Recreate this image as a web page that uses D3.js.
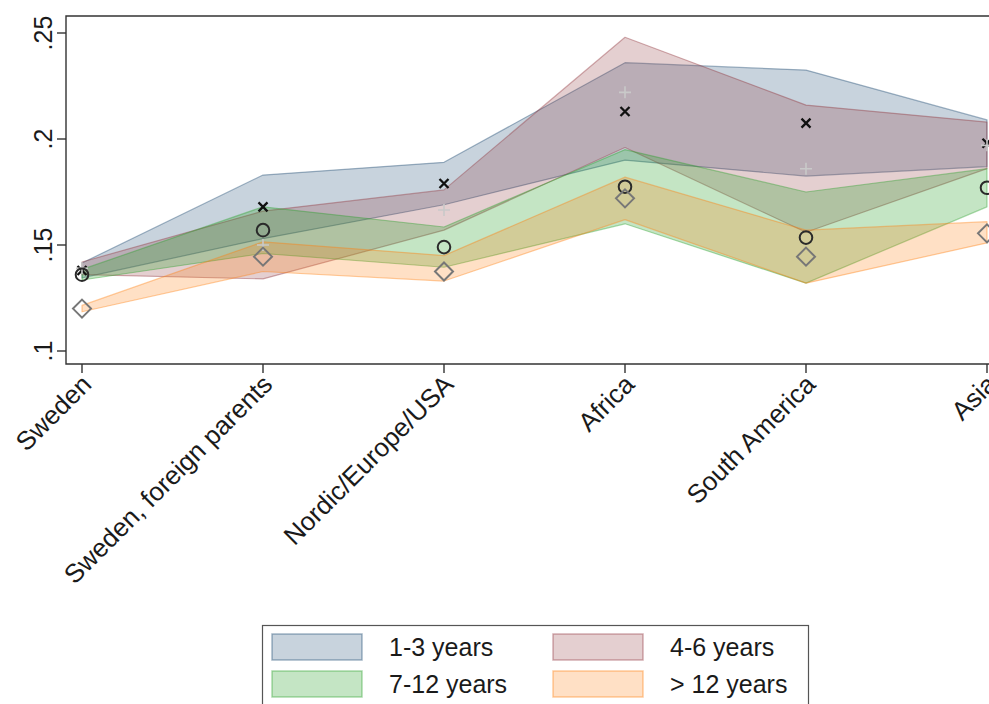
<!DOCTYPE html>
<html>
<head>
<meta charset="utf-8">
<script src="https://cdn.jsdelivr.net/npm/d3@7"></script>
<style>
  html, body { margin: 0; padding: 0; background: #fff; }
  svg { display: block; font-family: "Liberation Sans", Arial, sans-serif; }
</style>
</head>
<body>
<svg id="chart" width="989" height="704"></svg>
<script>
// Region of origin along the x axis
const categories = ["Sweden", "Sweden, foreign parents", "Nordic/Europe/USA", "Africa", "South America", "Asia"];

// Point estimates and 95% interval bounds by years since arrival
const est1to3  = [0.138, 0.168, 0.179, 0.213, 0.2075, 0.198];
const lo1to3   = [0.1345, 0.153, 0.169, 0.190, 0.1825, 0.187];
const hi1to3   = [0.1415, 0.183, 0.189, 0.236, 0.2325, 0.209];

const est4to6  = [0.139, 0.150, 0.1665, 0.222, 0.186, 0.197];
const lo4to6   = [0.136, 0.134, 0.157, 0.196, 0.156, 0.186];
const hi4to6   = [0.142, 0.166, 0.176, 0.248, 0.216, 0.208];

const est7to12 = [0.136, 0.157, 0.149, 0.1775, 0.1535, 0.177];
const lo7to12  = [0.1335, 0.146, 0.1395, 0.160, 0.132, 0.168];
const hi7to12  = [0.1385, 0.168, 0.1585, 0.195, 0.175, 0.186];

const est12p   = [0.120, 0.1445, 0.1375, 0.172, 0.1445, 0.1555];
const lo12p    = [0.1185, 0.1375, 0.133, 0.162, 0.132, 0.151];
const hi12p    = [0.1215, 0.1515, 0.145, 0.182, 0.157, 0.161];

const yTicks = [0.1, 0.15, 0.2, 0.25];
const yTickLabels = [".1", ".15", ".2", ".25"];

const seriesNames = ["1-3 years", "4-6 years", "7-12 years", "> 12 years"];
const seriesColors = ["#1a476f", "#90353b", "#2ca02c", "#ff7f0e"];
const markerKinds = ["cross", "plus", "circle", "diamond"];

const series = [
  { name: seriesNames[0], color: seriesColors[0], marker: markerKinds[0], est: est1to3,  lo: lo1to3,  hi: hi1to3 },
  { name: seriesNames[1], color: seriesColors[1], marker: markerKinds[1], est: est4to6,  lo: lo4to6,  hi: hi4to6 },
  { name: seriesNames[2], color: seriesColors[2], marker: markerKinds[2], est: est7to12, lo: lo7to12, hi: hi7to12 },
  { name: seriesNames[3], color: seriesColors[3], marker: markerKinds[3], est: est12p,   lo: lo12p,   hi: hi12p }
];

const svg = d3.select("#chart");
const frame = { left: 66, top: 16, bottom: 364, right: 1000 };

const x = d3.scalePoint().domain(categories).range([82, 987]);
const y = d3.scaleLinear().domain([0.1, 0.25]).range([351, 33]);

const fillOpacity = c => (c === "#2ca02c" ? 0.28 : 0.24);

// Interval bands
const area = d3.area()
  .x(d => x(d.cat))
  .y0(d => y(d.lo))
  .y1(d => y(d.hi));

const bands = svg.append("g");
series.forEach(s => {
  const rows = categories.map((c, i) => ({ cat: c, lo: s.lo[i], hi: s.hi[i] }));
  bands.append("path")
    .datum(rows)
    .attr("d", area)
    .attr("fill", s.color)
    .attr("fill-opacity", fillOpacity(s.color))
    .attr("stroke", s.color)
    .attr("stroke-opacity", 0.4)
    .attr("stroke-width", 1.2)
    .attr("stroke-linejoin", "round");
});

// Point estimate markers
const markers = svg.append("g");
function drawMarker(g, kind, cx, cy) {
  if (kind === "cross") {
    const r = 4.5;
    g.append("path")
      .attr("d", `M${cx - r},${cy - r}L${cx + r},${cy + r}M${cx - r},${cy + r}L${cx + r},${cy - r}`)
      .attr("stroke", "#111").attr("stroke-width", 2.3).attr("fill", "none");
  } else if (kind === "plus") {
    const r = 6;
    g.append("path")
      .attr("d", `M${cx - r},${cy}L${cx + r},${cy}M${cx},${cy - r}L${cx},${cy + r}`)
      .attr("stroke", "#c9c9c9").attr("stroke-width", 1.6).attr("fill", "none");
  } else if (kind === "circle") {
    g.append("circle")
      .attr("cx", cx).attr("cy", cy).attr("r", 6.3)
      .attr("stroke", "#2a2a2a").attr("stroke-width", 2).attr("fill", "none");
  } else {
    const r = 9;
    g.append("path")
      .attr("d", `M${cx},${cy - r}L${cx + r},${cy}L${cx},${cy + r}L${cx - r},${cy}Z`)
      .attr("stroke", "#777").attr("stroke-width", 2).attr("fill", "none");
  }
}
series.forEach(s => {
  categories.forEach((c, i) => drawMarker(markers, s.marker, x(c), y(s.est[i])));
});

// Plot frame
const axes = svg.append("g").attr("stroke", "#333").attr("stroke-width", 1.4).attr("fill", "none");
axes.append("path")
  .attr("d", `M${frame.right},${frame.top}H${frame.left}V${frame.bottom}H${frame.right}`);

// Y axis ticks and labels
const yAxis = svg.append("g");
yTicks.forEach((t, i) => {
  yAxis.append("line")
    .attr("x1", frame.left - 9).attr("x2", frame.left)
    .attr("y1", y(t)).attr("y2", y(t))
    .attr("stroke", "#333").attr("stroke-width", 1.4);
  yAxis.append("text")
    .attr("transform", `translate(${frame.left - 14},${y(t)}) rotate(-90)`)
    .attr("text-anchor", "middle")
    .attr("font-size", 25)
    .attr("fill", "#1a1a1a")
    .text(yTickLabels[i]);
});

// X axis ticks and rotated labels
const xAxis = svg.append("g");
categories.forEach(c => {
  xAxis.append("line")
    .attr("x1", x(c)).attr("x2", x(c))
    .attr("y1", frame.bottom).attr("y2", frame.bottom + 9)
    .attr("stroke", "#333").attr("stroke-width", 1.4);
  xAxis.append("text")
    .attr("transform", `translate(${x(c) + 11},${frame.bottom + 22}) rotate(-45)`)
    .attr("text-anchor", "end")
    .attr("font-size", 26)
    .attr("fill", "#1a1a1a")
    .text(c);
});

// Legend
const legend = svg.append("g");
legend.append("rect")
  .attr("x", 262.5).attr("y", 625.5).attr("width", 546).attr("height", 90)
  .attr("fill", "#fff").attr("stroke", "#555").attr("stroke-width", 1.2);
const legendCols = [272, 553];
const legendRows = [634, 671];
series.forEach((s, i) => {
  const lx = legendCols[i % 2];
  const ly = legendRows[Math.floor(i / 2)];
  legend.append("rect")
    .attr("x", lx).attr("y", ly).attr("width", 90).attr("height", 26)
    .attr("fill", s.color).attr("fill-opacity", fillOpacity(s.color))
    .attr("stroke", s.color).attr("stroke-opacity", 0.4).attr("stroke-width", 1.5);
  legend.append("text")
    .attr("x", lx + 117).attr("y", ly + 22)
    .attr("font-size", 25)
    .attr("fill", "#1a1a1a")
    .text(s.name);
});
</script>
</body>
</html>
